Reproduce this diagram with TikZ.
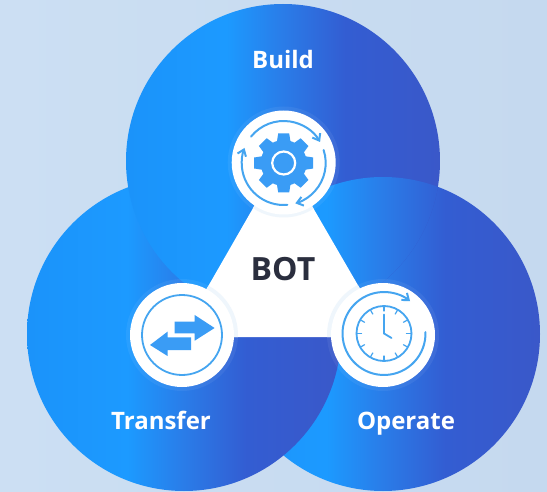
\documentclass[tikz,border=0pt]{standalone}
\usepackage{fontspec}
\setmainfont{Open Sans}
\usetikzlibrary{arrows.meta}
\definecolor{bright}{HTML}{1C9AFF}
\definecolor{edgeb}{HTML}{1B93FA}
\definecolor{midb}{HTML}{2A7CE8}
\definecolor{deep}{HTML}{335DD2}
\definecolor{deepest}{HTML}{3A58C9}
\definecolor{icon}{HTML}{3A9CF5}
\definecolor{iconline}{HTML}{45A5F0}
\definecolor{ink}{HTML}{2A2E3E}
\definecolor{bgl}{HTML}{CCDFF3}
\definecolor{bgr}{HTML}{C5D9EF}
\definecolor{haloin}{HTML}{EFF6FC}
\pgfdeclarehorizontalshading{petalshade}{100bp}{color(0bp)=(edgeb); color(25bp)=(edgeb); color(41bp)=(bright); color(50bp)=(midb); color(60bp)=(deep); color(75bp)=(deepest); color(100bp)=(deepest)}
\tikzset{
  petal/.style={shading=petalshade},
  badge/.style={fill=white},
  halo/.style={fill=white,fill opacity=.06},
  label/.style={text=white,font=\bfseries\fontsize{24}{28}\selectfont,inner sep=0pt,anchor=base},
  rot/.style={draw=iconline,line width=2pt,line cap=round,-{Straight Barb[length=6pt,width=9pt]}},
  thin/.style={draw=iconline,line width=1.8pt,line cap=round}
}
\begin{document}
\begin{tikzpicture}[x=1pt,y=-1pt]
\useasboundingbox (0,0) rectangle (547,492);
\shade[left color=bgl,right color=bgr] (0,0) rectangle (547,492);
% petals, cyclic overlap
\shade[petal] (383,334) circle (157);
\shade[petal] (184,334) circle (157);
\shade[petal] (283,161) circle (157);
\begin{scope}
  \clip (283,161) circle (157);
  \shade[petal] (383,334) circle (157);
\end{scope}
% halos and triangle
\fill[halo] (283.7,162.5) circle (56);
\fill[halo] (182,335) circle (56);
\fill[halo] (383,335) circle (56);
\fill[white] (283,156) -- (179,337) -- (388,337) -- cycle;
\begin{scope}
  \clip (283,156) -- (179,337) -- (388,337) -- cycle;
  \fill[haloin] (283.7,162.5) circle (55);
  \fill[haloin] (182,335) circle (56);
  \fill[haloin] (383,335) circle (56);
\end{scope}
\fill[badge] (283.7,162.5) circle (52);
\fill[badge] (182,335) circle (52);
\fill[badge] (383,335) circle (52);
% gear icon
\begin{scope}[shift={(283.7,163)},x=1pt,y=1pt]
  \fill[icon] (0,0) circle (23);
  \foreach \a in {0,45,...,315}{
    \fill[icon,rotate=\a] (-7,20) -- (-5.5,29.5) -- (5.5,29.5) -- (7,20) -- cycle;
  }
  \draw[white,line width=2.2pt] (0,0) circle (11.5);
  \draw[rot] (-85:42) arc (-85:-201:42);
  \draw[rot] (141:42) arc (141:30:42);
  \draw[rot] (18:42) arc (18:-74:42);
\end{scope}
% transfer icon
\begin{scope}[shift={(182,335)},x=1pt,y=-1pt]
  \draw[thin] (0,0) circle (40);
  \fill[icon] (-7.5,-13.3) -- (12.7,-13.3) -- (12.7,-20) -- (32.6,-7) -- (12.7,5.7) -- (12.7,-1.7) -- (-7.5,-1.7) -- cycle;
  \fill[icon] (9,2.3) -- (-14.5,2.3) -- (-14.5,-3.3) -- (-32,10) -- (-14.5,21) -- (-14.5,15) -- (9,15) -- cycle;
\end{scope}
% clock icon
\begin{scope}[shift={(384,333.5)},x=1pt,y=1pt]
  \draw[thin] (0,0) circle (27.5);
  \foreach \a in {0,30,...,330}{
    \draw[thin,line width=1.2pt] (\a:27.5) -- (\a:22.5);
  }
  \draw[thin] (0,19) -- (0,0) -- (7.5,-4.5);
  \draw[rot] (2:41.5) arc (2:-309:41.5);
\end{scope}
% labels
\node[label] (build) at (283,69) {Build};
\node[label] (transfer) at (161,429.5) {Transfer};
\node[label] (operate) at (406,429.5) {Operate};
\node[text=ink,font=\bfseries\fontsize{32}{38}\selectfont,inner sep=0pt,anchor=base] (bot) at (283,281) {BOT};
\end{tikzpicture}
\end{document}
